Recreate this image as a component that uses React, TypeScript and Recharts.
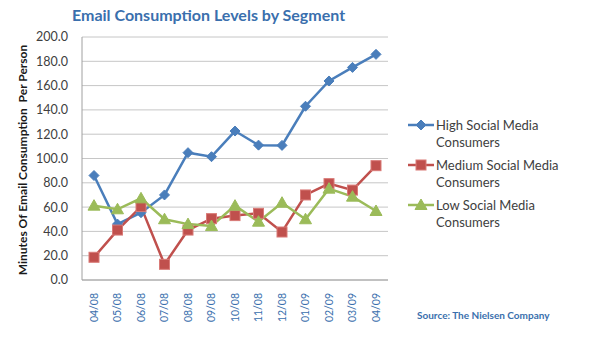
import { CartesianGrid, Line, LineChart, XAxis, YAxis } from 'recharts';

const months = ['04/08', '05/08', '06/08', '07/08', '08/08', '09/08', '10/08', '11/08', '12/08', '01/09', '02/09', '03/09', '04/09'];
const highSocial = [86, 46, 55.4, 70, 104.8, 101.5, 122.6, 111, 110.8, 143, 163.8, 175, 185.7];
const mediumSocial = [18.7, 41.1, 60.4, 12.9, 41.1, 50.5, 53, 54.9, 39.5, 70, 79.3, 74, 94.1];
const lowSocial = [61.2, 58.2, 67.2, 50, 46, 44.4, 61.2, 48, 63.6, 50, 75.2, 68.6, 56.8];
const yTicks = [0, 20, 40, 60, 80, 100, 120, 140, 160, 180, 200];

const data = months.map((m, i) => ({
    month: m,
    high: highSocial[i],
    medium: mediumSocial[i],
    low: lowSocial[i],
}));

const BLUE = '#4a7ebb';
const RED = '#c0504d';
const GREEN = '#9bbb59';
const FONT = 'Lato, "Open Sans", sans-serif';

const Diamond = (props: any) => {
    const { cx, cy } = props;
    if (cx == null || cy == null) return null;
    const r = 5;
    return <path d={`M${cx},${cy - r}L${cx + r},${cy}L${cx},${cy + r}L${cx - r},${cy}Z`} fill={BLUE} stroke={BLUE} />;
};

const Square = (props: any) => {
    const { cx, cy } = props;
    if (cx == null || cy == null) return null;
    const s = 5;
    return <rect x={cx - s} y={cy - s} width={s * 2} height={s * 2} fill={RED} stroke="#d97a77" strokeWidth={1} />;
};

const Triangle = (props: any) => {
    const { cx, cy } = props;
    if (cx == null || cy == null) return null;
    const r = 6;
    return <path d={`M${cx},${cy - r}L${cx + r},${cy + r * 0.75}L${cx - r},${cy + r * 0.75}Z`} fill={GREEN} stroke={GREEN} />;
};

const MonthTick = (props: any) => {
    const { x, y, payload } = props;
    return (
        <g transform={`translate(${x},${y})`}>
            <text transform="rotate(-90)" x={-5} y={0} dy="0.35em" textAnchor="end" fill="#3a6fad" fontSize={10.5} fontFamily={FONT}>
                {payload.value}
            </text>
        </g>
    );
};

const legendItems = [
    { label: ['High Social Media', 'Consumers'], color: BLUE, Marker: Diamond },
    { label: ['Medium Social Media', 'Consumers'], color: RED, Marker: Square },
    { label: ['Low Social Media', 'Consumers'], color: GREEN, Marker: Triangle },
];

const SideLegend = () => (
    <svg width={190} height={120} style={{ position: 'absolute', left: 406, top: 117 }}>
        {legendItems.map((item, i) => {
            const y = 8 + i * 40;
            const { Marker } = item;
            return (
                <g key={i}>
                    <line x1={2} x2={28} y1={y} y2={y} stroke={item.color} strokeWidth={2.5} />
                    <Marker cx={15} cy={y} />
                    <text x={30} y={y} dy="0.35em" fontSize={13} fill="#404040" fontFamily={FONT}>
                        {item.label[0]}
                    </text>
                    <text x={30} y={y + 17} dy="0.35em" fontSize={13} fill="#404040" fontFamily={FONT}>
                        {item.label[1]}
                    </text>
                </g>
            );
        })}
    </svg>
);

export default function App() {
    return (
        <div style={{ position: 'absolute', left: 0, top: 0, width: 597, height: 345, background: '#fff', fontFamily: FONT }}>
            <div style={{ position: 'absolute', left: 72, top: 5, fontSize: 16, fontWeight: 700, color: '#3a6fad', whiteSpace: 'nowrap' }}>
                Email Consumption Levels by Segment
            </div>
            <div
                style={{
                    position: 'absolute',
                    left: 22,
                    top: 160,
                    transform: 'translate(-50%, -50%) rotate(-90deg)',
                    fontSize: 12,
                    fontWeight: 700,
                    color: '#1a1a1a',
                    whiteSpace: 'pre',
                }}
            >
                Minutes Of Email Consumption  Per Person
            </div>
            <div style={{ position: 'absolute', left: 417, top: 309, fontSize: 10, fontWeight: 700, color: '#3a6fad', whiteSpace: 'nowrap' }}>
                Source: The Nielsen Company
            </div>
            <LineChart width={597} height={345} data={data} margin={{ top: 37, right: 209, bottom: 0, left: 0 }}>
                <CartesianGrid vertical={false} stroke="#c6c6c6" strokeWidth={1} />
                <XAxis
                    dataKey="month"
                    height={65}
                    padding={{ left: 12, right: 12 }}
                    axisLine={{ stroke: '#a0a0a0' }}
                    tickLine={false}
                    interval={0}
                    tick={<MonthTick />}
                />
                <YAxis
                    width={82}
                    domain={[0, 200]}
                    ticks={yTicks}
                    interval={0}
                    tickFormatter={(v: number) => v.toFixed(1)}
                    axisLine={{ stroke: '#a0a0a0' }}
                    tickLine={false}
                    tickMargin={8}
                    tick={{ fill: '#404040', fontSize: 12.5, fontFamily: FONT }}
                />
                <Line dataKey="high" name="High Social Media Consumers" stroke={BLUE} strokeWidth={2.5} dot={<Diamond />} activeDot={false} isAnimationActive={false} />
                <Line dataKey="medium" name="Medium Social Media Consumers" stroke={RED} strokeWidth={2.5} dot={<Square />} activeDot={false} isAnimationActive={false} />
                <Line dataKey="low" name="Low Social Media Consumers" stroke={GREEN} strokeWidth={2.5} dot={<Triangle />} activeDot={false} isAnimationActive={false} />
            </LineChart>
            <SideLegend />
        </div>
    );
}
